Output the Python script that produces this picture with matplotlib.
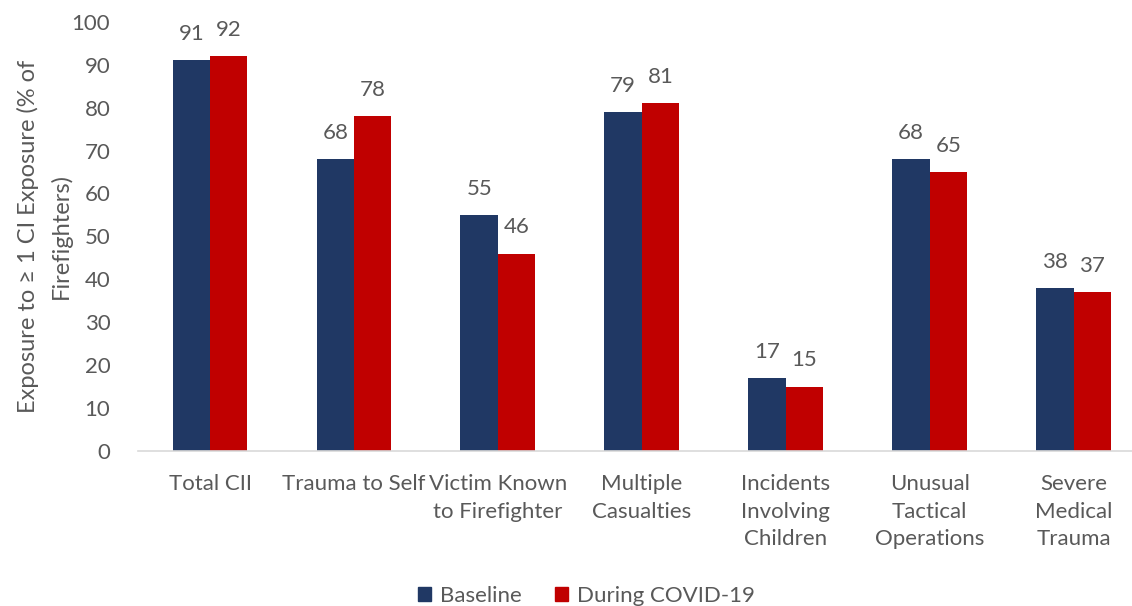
import numpy as np
import matplotlib.pyplot as plt
from matplotlib.patches import Patch

# data
categories = ["Total CII", "Trauma to Self", "Victim Known\nto Firefighter", "Multiple\nCasualties",
              "Incidents\nInvolving\nChildren", "Unusual\nTactical\nOperations", "Severe\nMedical\nTrauma"]
baseline = [91, 68, 55, 79, 17, 68, 38]
covid = [92, 78, 46, 81, 15, 65, 37]
series_names = ["Baseline", "During COVID-19"]

navy = "#203864"
red = "#C00000"
grey = "#595959"

plt.rcParams['font.family'] = ['Lato', 'DejaVu Sans']

fig = plt.figure(figsize=(11.32, 6.06), dpi=100)
ax = fig.add_axes([0.122, 0.256, 0.89, 0.708])

x = np.arange(len(categories))
w = 0.26
b1 = ax.bar(x - w/2, baseline, w, color=navy)
b2 = ax.bar(x + w/2, covid, w, color=red)

for bars, vals in [(b1, baseline), (b2, covid)]:
    for r, v in zip(bars, vals):
        ax.text(r.get_x() + r.get_width()/2, v + 3.8, str(v), ha='center', va='bottom',
                fontsize=16, color=grey)

ax.set_xlim(-0.5, len(categories) - 0.5)
ax.set_ylim(0, 100)
ax.set_yticks(range(0, 101, 10))
ax.set_xticks(x)
ax.set_xticklabels(categories, fontsize=16, color=grey, linespacing=1.45, va='top')
ax.tick_params(axis='y', labelsize=16, labelcolor=grey, length=0, pad=20)
ax.tick_params(axis='x', length=0, pad=17)

for s in ['top', 'right', 'left']:
    ax.spines[s].set_visible(False)
ax.spines['bottom'].set_color('#d9d9d9')
ax.spines['bottom'].set_linewidth(1.2)

ax.set_ylabel("Exposure to \u2265 1 CI Exposure (% of\nFirefighters)", fontsize=17, color=grey,
              linespacing=1.6, labelpad=0)

handles = [Patch(color=navy), Patch(color=red)]
fig.legend(handles, series_names, loc='lower center', bbox_to_anchor=(0.518, -0.033), ncol=2,
           frameon=False, fontsize=16, labelcolor=grey, handlelength=0.6, handleheight=0.6,
           handletextpad=0.4, columnspacing=1.5)

fig.savefig("out.png", dpi=100)
